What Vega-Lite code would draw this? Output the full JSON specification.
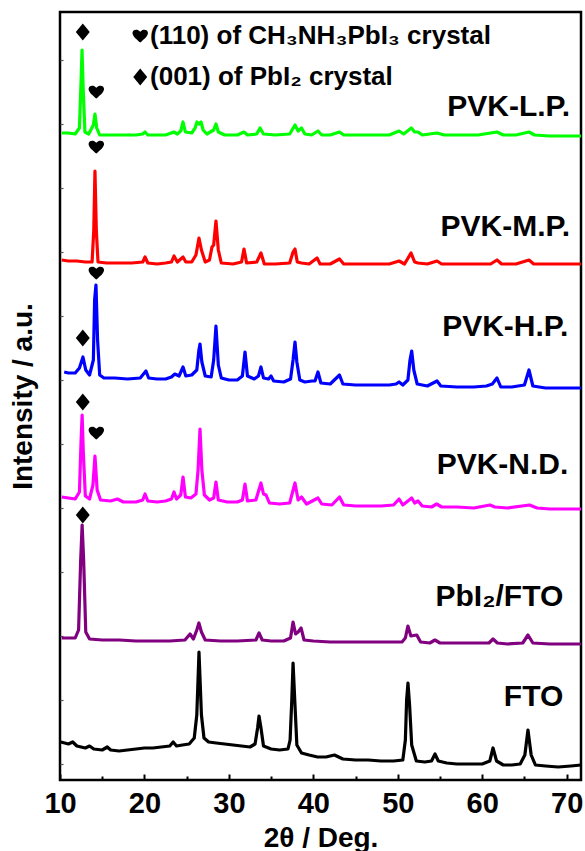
{
  "$schema": "https://vega.github.io/schema/vega-lite/v6.json",
  "width": 521,
  "height": 768,
  "autosize": {"type": "none"},
  "padding": {"left": 60, "top": 12, "right": 4, "bottom": 71},
  "config": {
    "font": "Liberation Sans",
    "view": {"stroke": "black", "strokeWidth": 2.5}
  },
  "datasets": {
    "xrd": [
      {"s":"FTO","x":10.1,"y":38},{"s":"FTO","x":11,"y":36},{"s":"FTO","x":11.5,"y":38},{"s":"FTO","x":12,"y":34},{"s":"FTO","x":13,"y":32},{"s":"FTO","x":13.5,"y":34},{"s":"FTO","x":14,"y":31},{"s":"FTO","x":15,"y":30},{"s":"FTO","x":15.6,"y":33},{"s":"FTO","x":16,"y":30},{"s":"FTO","x":17,"y":29},{"s":"FTO","x":18,"y":30},{"s":"FTO","x":19,"y":31},{"s":"FTO","x":20,"y":32},{"s":"FTO","x":21,"y":32},{"s":"FTO","x":22,"y":33},{"s":"FTO","x":23,"y":34},{"s":"FTO","x":23.4,"y":38},{"s":"FTO","x":23.8,"y":34},{"s":"FTO","x":24.5,"y":35},{"s":"FTO","x":25.3,"y":36},{"s":"FTO","x":25.9,"y":42},{"s":"FTO","x":26.2,"y":65},{"s":"FTO","x":26.46,"y":128},{"s":"FTO","x":26.75,"y":65},{"s":"FTO","x":27.05,"y":42},{"s":"FTO","x":27.6,"y":38},{"s":"FTO","x":28.5,"y":37},{"s":"FTO","x":29.5,"y":36},{"s":"FTO","x":30.5,"y":35},{"s":"FTO","x":31.5,"y":34},{"s":"FTO","x":32.5,"y":33},{"s":"FTO","x":33.1,"y":36},{"s":"FTO","x":33.4,"y":52},{"s":"FTO","x":33.57,"y":64},{"s":"FTO","x":33.8,"y":52},{"s":"FTO","x":34.1,"y":34},{"s":"FTO","x":35,"y":31},{"s":"FTO","x":36,"y":30},{"s":"FTO","x":37,"y":31},{"s":"FTO","x":37.25,"y":40},{"s":"FTO","x":37.45,"y":80},{"s":"FTO","x":37.6,"y":117},{"s":"FTO","x":37.8,"y":80},{"s":"FTO","x":38.05,"y":35},{"s":"FTO","x":38.6,"y":27},{"s":"FTO","x":39.5,"y":25},{"s":"FTO","x":40.5,"y":23},{"s":"FTO","x":41.5,"y":23},{"s":"FTO","x":42.5,"y":25},{"s":"FTO","x":43.5,"y":21},{"s":"FTO","x":45,"y":20},{"s":"FTO","x":46.5,"y":20},{"s":"FTO","x":48,"y":19},{"s":"FTO","x":49.5,"y":19},{"s":"FTO","x":50.6,"y":20},{"s":"FTO","x":50.9,"y":40},{"s":"FTO","x":51.05,"y":80},{"s":"FTO","x":51.21,"y":97},{"s":"FTO","x":51.4,"y":75},{"s":"FTO","x":51.65,"y":35},{"s":"FTO","x":52.2,"y":19},{"s":"FTO","x":53.2,"y":18},{"s":"FTO","x":54.0,"y":19},{"s":"FTO","x":54.41,"y":26},{"s":"FTO","x":54.8,"y":19},{"s":"FTO","x":55.8,"y":17},{"s":"FTO","x":57,"y":16},{"s":"FTO","x":58.5,"y":16},{"s":"FTO","x":60,"y":16},{"s":"FTO","x":60.9,"y":19},{"s":"FTO","x":61.28,"y":32},{"s":"FTO","x":61.7,"y":19},{"s":"FTO","x":62.5,"y":15},{"s":"FTO","x":63.5,"y":15},{"s":"FTO","x":64.5,"y":16},{"s":"FTO","x":65.05,"y":25},{"s":"FTO","x":65.42,"y":50},{"s":"FTO","x":65.8,"y":25},{"s":"FTO","x":66.3,"y":15},{"s":"FTO","x":67.5,"y":14},{"s":"FTO","x":69,"y":13},{"s":"FTO","x":70.5,"y":14},{"s":"FTO","x":71.7,"y":15},

      {"s":"PbI2","x":10.2,"y":142},{"s":"PbI2","x":11,"y":142},{"s":"PbI2","x":11.8,"y":142},{"s":"PbI2","x":12.2,"y":150},{"s":"PbI2","x":12.45,"y":220},{"s":"PbI2","x":12.62,"y":255},{"s":"PbI2","x":12.8,"y":220},{"s":"PbI2","x":13.05,"y":148},{"s":"PbI2","x":13.5,"y":141},{"s":"PbI2","x":15,"y":140},{"s":"PbI2","x":17,"y":140},{"s":"PbI2","x":19,"y":139},{"s":"PbI2","x":21,"y":139},{"s":"PbI2","x":23,"y":139},{"s":"PbI2","x":24.8,"y":140},{"s":"PbI2","x":25.4,"y":146},{"s":"PbI2","x":25.8,"y":141},{"s":"PbI2","x":26.2,"y":150},{"s":"PbI2","x":26.45,"y":157},{"s":"PbI2","x":26.75,"y":148},{"s":"PbI2","x":27.2,"y":140},{"s":"PbI2","x":29,"y":139},{"s":"PbI2","x":31,"y":139},{"s":"PbI2","x":33.2,"y":140},{"s":"PbI2","x":33.57,"y":147},{"s":"PbI2","x":33.95,"y":140},{"s":"PbI2","x":35,"y":139},{"s":"PbI2","x":36.5,"y":139},{"s":"PbI2","x":37.3,"y":142},{"s":"PbI2","x":37.6,"y":158},{"s":"PbI2","x":37.9,"y":146},{"s":"PbI2","x":38.2,"y":148},{"s":"PbI2","x":38.55,"y":152},{"s":"PbI2","x":38.9,"y":140},{"s":"PbI2","x":40,"y":139},{"s":"PbI2","x":42,"y":138},{"s":"PbI2","x":44,"y":138},{"s":"PbI2","x":46,"y":138},{"s":"PbI2","x":48,"y":138},{"s":"PbI2","x":50.5,"y":138},{"s":"PbI2","x":50.9,"y":142},{"s":"PbI2","x":51.2,"y":154},{"s":"PbI2","x":51.55,"y":144},{"s":"PbI2","x":52.25,"y":145},{"s":"PbI2","x":52.7,"y":138},{"s":"PbI2","x":53.8,"y":137},{"s":"PbI2","x":54.4,"y":140},{"s":"PbI2","x":55,"y":137},{"s":"PbI2","x":57,"y":137},{"s":"PbI2","x":59,"y":137},{"s":"PbI2","x":60.8,"y":137},{"s":"PbI2","x":61.28,"y":141},{"s":"PbI2","x":61.8,"y":137},{"s":"PbI2","x":63,"y":136},{"s":"PbI2","x":64.8,"y":137},{"s":"PbI2","x":65.42,"y":145},{"s":"PbI2","x":66,"y":137},{"s":"PbI2","x":68,"y":136},{"s":"PbI2","x":70,"y":136},{"s":"PbI2","x":71.7,"y":136},

      {"s":"ND","x":10.2,"y":283},{"s":"ND","x":11,"y":282},{"s":"ND","x":11.8,"y":281},{"s":"ND","x":12.3,"y":288},{"s":"ND","x":12.5,"y":340},{"s":"ND","x":12.62,"y":365},{"s":"ND","x":12.75,"y":330},{"s":"ND","x":13.0,"y":284},{"s":"ND","x":13.5,"y":281},{"s":"ND","x":13.9,"y":295},{"s":"ND","x":14.14,"y":324},{"s":"ND","x":14.4,"y":290},{"s":"ND","x":14.8,"y":280},{"s":"ND","x":16,"y":279},{"s":"ND","x":16.8,"y":281},{"s":"ND","x":17.5,"y":278},{"s":"ND","x":19,"y":278},{"s":"ND","x":19.8,"y":280},{"s":"ND","x":20.07,"y":286},{"s":"ND","x":20.4,"y":279},{"s":"ND","x":21.5,"y":278},{"s":"ND","x":22.5,"y":279},{"s":"ND","x":23.2,"y":281},{"s":"ND","x":23.5,"y":288},{"s":"ND","x":23.8,"y":281},{"s":"ND","x":24.3,"y":285},{"s":"ND","x":24.57,"y":303},{"s":"ND","x":24.85,"y":283},{"s":"ND","x":25.5,"y":282},{"s":"ND","x":26.1,"y":286},{"s":"ND","x":26.35,"y":310},{"s":"ND","x":26.58,"y":351},{"s":"ND","x":26.8,"y":310},{"s":"ND","x":27.1,"y":285},{"s":"ND","x":27.7,"y":280},{"s":"ND","x":28.2,"y":282},{"s":"ND","x":28.47,"y":298},{"s":"ND","x":28.75,"y":280},{"s":"ND","x":29.8,"y":278},{"s":"ND","x":31,"y":278},{"s":"ND","x":31.6,"y":280},{"s":"ND","x":31.91,"y":296},{"s":"ND","x":32.2,"y":279},{"s":"ND","x":33.2,"y":280},{"s":"ND","x":33.8,"y":297},{"s":"ND","x":34.1,"y":286},{"s":"ND","x":34.4,"y":285},{"s":"ND","x":34.8,"y":277},{"s":"ND","x":36,"y":276},{"s":"ND","x":37.2,"y":277},{"s":"ND","x":37.83,"y":297},{"s":"ND","x":38.2,"y":280},{"s":"ND","x":38.6,"y":283},{"s":"ND","x":39.2,"y":276},{"s":"ND","x":40.55,"y":282},{"s":"ND","x":41,"y":276},{"s":"ND","x":42.2,"y":275},{"s":"ND","x":43.1,"y":283},{"s":"ND","x":43.6,"y":275},{"s":"ND","x":45,"y":274},{"s":"ND","x":46.5,"y":274},{"s":"ND","x":48,"y":274},{"s":"ND","x":49.5,"y":275},{"s":"ND","x":50.15,"y":281},{"s":"ND","x":50.6,"y":275},{"s":"ND","x":51.65,"y":282},{"s":"ND","x":52.0,"y":277},{"s":"ND","x":52.4,"y":279},{"s":"ND","x":52.9,"y":274},{"s":"ND","x":54,"y":273},{"s":"ND","x":54.6,"y":276},{"s":"ND","x":55.2,"y":273},{"s":"ND","x":57,"y":273},{"s":"ND","x":59,"y":272},{"s":"ND","x":60.92,"y":275},{"s":"ND","x":61.5,"y":273},{"s":"ND","x":63,"y":272},{"s":"ND","x":65.6,"y":275},{"s":"ND","x":66.5,"y":272},{"s":"ND","x":68,"y":271},{"s":"ND","x":70,"y":271},{"s":"ND","x":71.7,"y":271},

      {"s":"HP","x":10.5,"y":408},{"s":"HP","x":11,"y":407},{"s":"HP","x":11.8,"y":407},{"s":"HP","x":12.3,"y":412},{"s":"HP","x":12.72,"y":423},{"s":"HP","x":13.05,"y":410},{"s":"HP","x":13.5,"y":405},{"s":"HP","x":13.95,"y":420},{"s":"HP","x":14.1,"y":480},{"s":"HP","x":14.26,"y":495},{"s":"HP","x":14.45,"y":440},{"s":"HP","x":14.7,"y":405},{"s":"HP","x":15.2,"y":402},{"s":"HP","x":16.5,"y":402},{"s":"HP","x":18,"y":401},{"s":"HP","x":19.5,"y":402},{"s":"HP","x":20.18,"y":409},{"s":"HP","x":20.5,"y":402},{"s":"HP","x":21.5,"y":401},{"s":"HP","x":22.5,"y":401},{"s":"HP","x":23.2,"y":403},{"s":"HP","x":23.6,"y":406},{"s":"HP","x":24.1,"y":404},{"s":"HP","x":24.57,"y":413},{"s":"HP","x":24.9,"y":404},{"s":"HP","x":25.6,"y":405},{"s":"HP","x":26.2,"y":410},{"s":"HP","x":26.45,"y":430},{"s":"HP","x":26.58,"y":436},{"s":"HP","x":26.8,"y":418},{"s":"HP","x":27.2,"y":404},{"s":"HP","x":27.9,"y":403},{"s":"HP","x":28.2,"y":420},{"s":"HP","x":28.47,"y":454},{"s":"HP","x":28.75,"y":415},{"s":"HP","x":29.1,"y":402},{"s":"HP","x":30,"y":400},{"s":"HP","x":31,"y":400},{"s":"HP","x":31.6,"y":404},{"s":"HP","x":31.91,"y":428},{"s":"HP","x":32.2,"y":404},{"s":"HP","x":33,"y":401},{"s":"HP","x":33.5,"y":404},{"s":"HP","x":33.8,"y":413},{"s":"HP","x":34.1,"y":402},{"s":"HP","x":34.7,"y":401},{"s":"HP","x":34.99,"y":404},{"s":"HP","x":35.3,"y":399},{"s":"HP","x":36.5,"y":398},{"s":"HP","x":37.3,"y":401},{"s":"HP","x":37.6,"y":420},{"s":"HP","x":37.83,"y":438},{"s":"HP","x":38.05,"y":418},{"s":"HP","x":38.4,"y":400},{"s":"HP","x":39,"y":398},{"s":"HP","x":39.84,"y":399},{"s":"HP","x":40.2,"y":399},{"s":"HP","x":40.55,"y":408},{"s":"HP","x":40.9,"y":397},{"s":"HP","x":42,"y":396},{"s":"HP","x":43.1,"y":405},{"s":"HP","x":43.5,"y":396},{"s":"HP","x":45,"y":395},{"s":"HP","x":47,"y":395},{"s":"HP","x":49,"y":395},{"s":"HP","x":49.8,"y":396},{"s":"HP","x":50.15,"y":398},{"s":"HP","x":50.6,"y":395},{"s":"HP","x":51.2,"y":400},{"s":"HP","x":51.45,"y":420},{"s":"HP","x":51.65,"y":429},{"s":"HP","x":51.9,"y":410},{"s":"HP","x":52.3,"y":396},{"s":"HP","x":53.5,"y":394},{"s":"HP","x":54.65,"y":399},{"s":"HP","x":55.1,"y":394},{"s":"HP","x":57,"y":393},{"s":"HP","x":59,"y":393},{"s":"HP","x":60.5,"y":394},{"s":"HP","x":61.2,"y":396},{"s":"HP","x":61.75,"y":402},{"s":"HP","x":62.2,"y":393},{"s":"HP","x":63.5,"y":393},{"s":"HP","x":65,"y":395},{"s":"HP","x":65.54,"y":410},{"s":"HP","x":66,"y":394},{"s":"HP","x":67.5,"y":392},{"s":"HP","x":69,"y":392},{"s":"HP","x":70.5,"y":392},{"s":"HP","x":71.7,"y":392},

      {"s":"MP","x":10.2,"y":520},{"s":"MP","x":11,"y":519},{"s":"MP","x":12,"y":519},{"s":"MP","x":13,"y":518},{"s":"MP","x":13.8,"y":518},{"s":"MP","x":14.0,"y":550},{"s":"MP","x":14.14,"y":609},{"s":"MP","x":14.3,"y":550},{"s":"MP","x":14.5,"y":518},{"s":"MP","x":15.5,"y":517},{"s":"MP","x":17,"y":517},{"s":"MP","x":18.5,"y":517},{"s":"MP","x":19.8,"y":518},{"s":"MP","x":20.07,"y":523},{"s":"MP","x":20.4,"y":517},{"s":"MP","x":21.5,"y":516},{"s":"MP","x":22.5,"y":517},{"s":"MP","x":23.2,"y":518},{"s":"MP","x":23.5,"y":524},{"s":"MP","x":23.9,"y":518},{"s":"MP","x":24.57,"y":523},{"s":"MP","x":24.9,"y":518},{"s":"MP","x":25.6,"y":518},{"s":"MP","x":26.1,"y":525},{"s":"MP","x":26.46,"y":542},{"s":"MP","x":26.75,"y":530},{"s":"MP","x":27.2,"y":518},{"s":"MP","x":27.7,"y":520},{"s":"MP","x":28.0,"y":533},{"s":"MP","x":28.2,"y":535},{"s":"MP","x":28.47,"y":559},{"s":"MP","x":28.75,"y":530},{"s":"MP","x":29.1,"y":517},{"s":"MP","x":30.5,"y":516},{"s":"MP","x":31.5,"y":518},{"s":"MP","x":31.79,"y":531},{"s":"MP","x":32.1,"y":517},{"s":"MP","x":33.3,"y":518},{"s":"MP","x":33.8,"y":527},{"s":"MP","x":34.2,"y":516},{"s":"MP","x":35.5,"y":516},{"s":"MP","x":37.2,"y":517},{"s":"MP","x":37.6,"y":528},{"s":"MP","x":37.83,"y":531},{"s":"MP","x":38.1,"y":518},{"s":"MP","x":38.6,"y":517},{"s":"MP","x":39.5,"y":516},{"s":"MP","x":40.44,"y":522},{"s":"MP","x":40.8,"y":516},{"s":"MP","x":42,"y":516},{"s":"MP","x":43.1,"y":521},{"s":"MP","x":43.6,"y":516},{"s":"MP","x":45,"y":516},{"s":"MP","x":47,"y":516},{"s":"MP","x":49,"y":516},{"s":"MP","x":50.15,"y":519},{"s":"MP","x":50.8,"y":516},{"s":"MP","x":51.57,"y":527},{"s":"MP","x":52,"y":518},{"s":"MP","x":52.4,"y":517},{"s":"MP","x":53.5,"y":516},{"s":"MP","x":54.65,"y":519},{"s":"MP","x":55.2,"y":516},{"s":"MP","x":57,"y":516},{"s":"MP","x":59,"y":516},{"s":"MP","x":61,"y":516},{"s":"MP","x":61.75,"y":520},{"s":"MP","x":62.3,"y":516},{"s":"MP","x":64,"y":516},{"s":"MP","x":65.54,"y":520},{"s":"MP","x":66.1,"y":516},{"s":"MP","x":68,"y":516},{"s":"MP","x":70,"y":516},{"s":"MP","x":71.7,"y":516},

      {"s":"LP","x":10.2,"y":647},{"s":"LP","x":11,"y":647},{"s":"LP","x":11.8,"y":646},{"s":"LP","x":12.3,"y":652},{"s":"LP","x":12.5,"y":700},{"s":"LP","x":12.61,"y":730},{"s":"LP","x":12.75,"y":690},{"s":"LP","x":12.95,"y":648},{"s":"LP","x":13.4,"y":646},{"s":"LP","x":13.95,"y":655},{"s":"LP","x":14.14,"y":666},{"s":"LP","x":14.35,"y":652},{"s":"LP","x":14.7,"y":645},{"s":"LP","x":16,"y":645},{"s":"LP","x":17.5,"y":645},{"s":"LP","x":19,"y":645},{"s":"LP","x":19.8,"y":646},{"s":"LP","x":20.07,"y":648},{"s":"LP","x":20.4,"y":645},{"s":"LP","x":21.5,"y":645},{"s":"LP","x":22.5,"y":645},{"s":"LP","x":23.5,"y":648},{"s":"LP","x":23.9,"y":646},{"s":"LP","x":24.3,"y":649},{"s":"LP","x":24.57,"y":658},{"s":"LP","x":24.85,"y":648},{"s":"LP","x":25.6,"y":647},{"s":"LP","x":26.0,"y":652},{"s":"LP","x":26.22,"y":658},{"s":"LP","x":26.45,"y":656},{"s":"LP","x":26.7,"y":658},{"s":"LP","x":26.95,"y":650},{"s":"LP","x":27.4,"y":646},{"s":"LP","x":28.2,"y":650},{"s":"LP","x":28.47,"y":656},{"s":"LP","x":28.75,"y":648},{"s":"LP","x":29.5,"y":645},{"s":"LP","x":31,"y":645},{"s":"LP","x":31.79,"y":648},{"s":"LP","x":32.2,"y":645},{"s":"LP","x":33.3,"y":646},{"s":"LP","x":33.69,"y":652},{"s":"LP","x":34.1,"y":646},{"s":"LP","x":35.5,"y":645},{"s":"LP","x":37.2,"y":646},{"s":"LP","x":37.83,"y":655},{"s":"LP","x":38.2,"y":649},{"s":"LP","x":38.6,"y":652},{"s":"LP","x":39,"y":646},{"s":"LP","x":39.8,"y":645},{"s":"LP","x":40.55,"y":649},{"s":"LP","x":41,"y":645},{"s":"LP","x":42,"y":645},{"s":"LP","x":43.1,"y":648},{"s":"LP","x":43.6,"y":645},{"s":"LP","x":45,"y":645},{"s":"LP","x":47,"y":645},{"s":"LP","x":49,"y":645},{"s":"LP","x":50.15,"y":649},{"s":"LP","x":50.7,"y":646},{"s":"LP","x":51.6,"y":652},{"s":"LP","x":52.0,"y":648},{"s":"LP","x":52.4,"y":648},{"s":"LP","x":52.9,"y":645},{"s":"LP","x":54.65,"y":647},{"s":"LP","x":55.5,"y":645},{"s":"LP","x":57.5,"y":645},{"s":"LP","x":59.5,"y":645},{"s":"LP","x":61.75,"y":648},{"s":"LP","x":62.5,"y":645},{"s":"LP","x":64,"y":645},{"s":"LP","x":65.54,"y":648},{"s":"LP","x":66.2,"y":645},{"s":"LP","x":68,"y":644},{"s":"LP","x":70,"y":644},{"s":"LP","x":71.7,"y":644}
    ],
    "labels": [
      {"t":"PVK-L.P.","x":70.4,"y":673},
      {"t":"PVK-M.P.","x":70.4,"y":553},
      {"t":"PVK-H.P.","x":70.2,"y":453},
      {"t":"PVK-N.D.","x":70.2,"y":315},
      {"t":"PbI₂/FTO","x":69.6,"y":183},
      {"t":"FTO","x":69.6,"y":83}
    ],
    "legend": [
      {"t":"(110) of CH₃NH₃PbI₃ crystal","x":20.66,"y":744},
      {"t":"(001) of PbI₂ crystal","x":20.66,"y":703}
    ],
    "markers": [
      {"m":"heart","x":19.5,"y":744},
      {"m":"diamond","x":19.5,"y":703},
      {"m":"diamond","x":12.7,"y":748},
      {"m":"heart","x":14.3,"y":688},
      {"m":"heart","x":14.3,"y":633},
      {"m":"heart","x":14.3,"y":507},
      {"m":"diamond","x":12.7,"y":442},
      {"m":"diamond","x":12.7,"y":378},
      {"m":"heart","x":14.3,"y":347},
      {"m":"diamond","x":12.7,"y":265}
    ]
  },
  "layer": [
    {
      "data": {"name": "xrd"},
      "mark": {"type": "line", "strokeWidth": 3.2, "interpolate": "linear", "strokeJoin": "round"},
      "encoding": {
        "x": {
          "field": "x", "type": "quantitative",
          "scale": {"domain": [10, 71.7], "nice": false, "zero": false},
          "axis": {
            "values": [10,15,20,25,30,35,40,45,50,55,60,65,70],
            "labelExpr": "datum.value % 10 === 0 ? datum.label : ''",
            "domain": false, "grid": false,
            "tickColor": "black", "tickWidth": 2,
            "tickSize": {"condition": {"test": "datum.value % 10 === 0", "value": -6}, "value": -4},
            "labelFontSize": 29, "labelFontWeight": "bold", "labelColor": "black",
            "labelPadding": 15, "labelFlush": false, "labelOverlap": false,
            "title": "2θ / Deg.", "titleFontSize": 28, "titleFontWeight": "bold", "titleColor": "black",
            "titlePadding": 4
          }
        },
        "y": {
          "field": "y", "type": "quantitative",
          "scale": {"domain": [0, 768], "nice": false, "zero": false},
          "axis": {
            "values": [16,32,48,64,80,96,112,128,144,160,176,192,208,224,240,256,272,288,304,320,336,352,368,384,400,416,432,448,464,480,496,512,528,544,560,576,592,608,624,640,656,672,688,704,720,736,752],
            "labels": false, "domain": false, "grid": false,
            "tickColor": "#555555", "tickWidth": 1.2, "tickSize": -3,
            "title": "Intensity / a.u.", "titleFontSize": 28, "titleFontWeight": "bold", "titleColor": "black",
            "titlePadding": 22
          }
        },
        "color": {
          "field": "s", "type": "nominal", "legend": null,
          "scale": {"domain": ["FTO","PbI2","ND","HP","MP","LP"], "range": ["#000000","#800080","#FF00FF","#0000FF","#FF0000","#00FF00"]}
        }
      }
    },
    {
      "data": {"name": "labels"},
      "mark": {"type": "text", "align": "right", "baseline": "middle", "fontSize": 30, "fontWeight": "bold", "color": "black"},
      "encoding": {
        "x": {"field": "x", "type": "quantitative"},
        "y": {"field": "y", "type": "quantitative"},
        "text": {"field": "t"}
      }
    },
    {
      "data": {"name": "legend"},
      "mark": {"type": "text", "align": "left", "baseline": "middle", "fontSize": 26, "fontWeight": "bold", "color": "black"},
      "encoding": {
        "x": {"field": "x", "type": "quantitative"},
        "y": {"field": "y", "type": "quantitative"},
        "text": {"field": "t"}
      }
    },
    {
      "data": {"name": "markers"},
      "mark": {"type": "point", "filled": true, "color": "black", "opacity": 1, "strokeWidth": 0},
      "encoding": {
        "x": {"field": "x", "type": "quantitative"},
        "y": {"field": "y", "type": "quantitative"},
        "shape": {
          "field": "m", "type": "nominal", "legend": null,
          "scale": {"domain": ["diamond","heart"], "range": ["M0,-1.1 L0.9,0 L0,1.1 L-0.9,0 Z", "M0,0.85 C-0.35,0.5 -1,0.05 -1,-0.4 C-1,-0.85 -0.35,-1.0 0,-0.55 C0.35,-1.0 1,-0.85 1,-0.4 C1,0.05 0.35,0.5 0,0.85 Z"]}
        },
        "size": {"value": 240}
      }
    }
  ]
}
